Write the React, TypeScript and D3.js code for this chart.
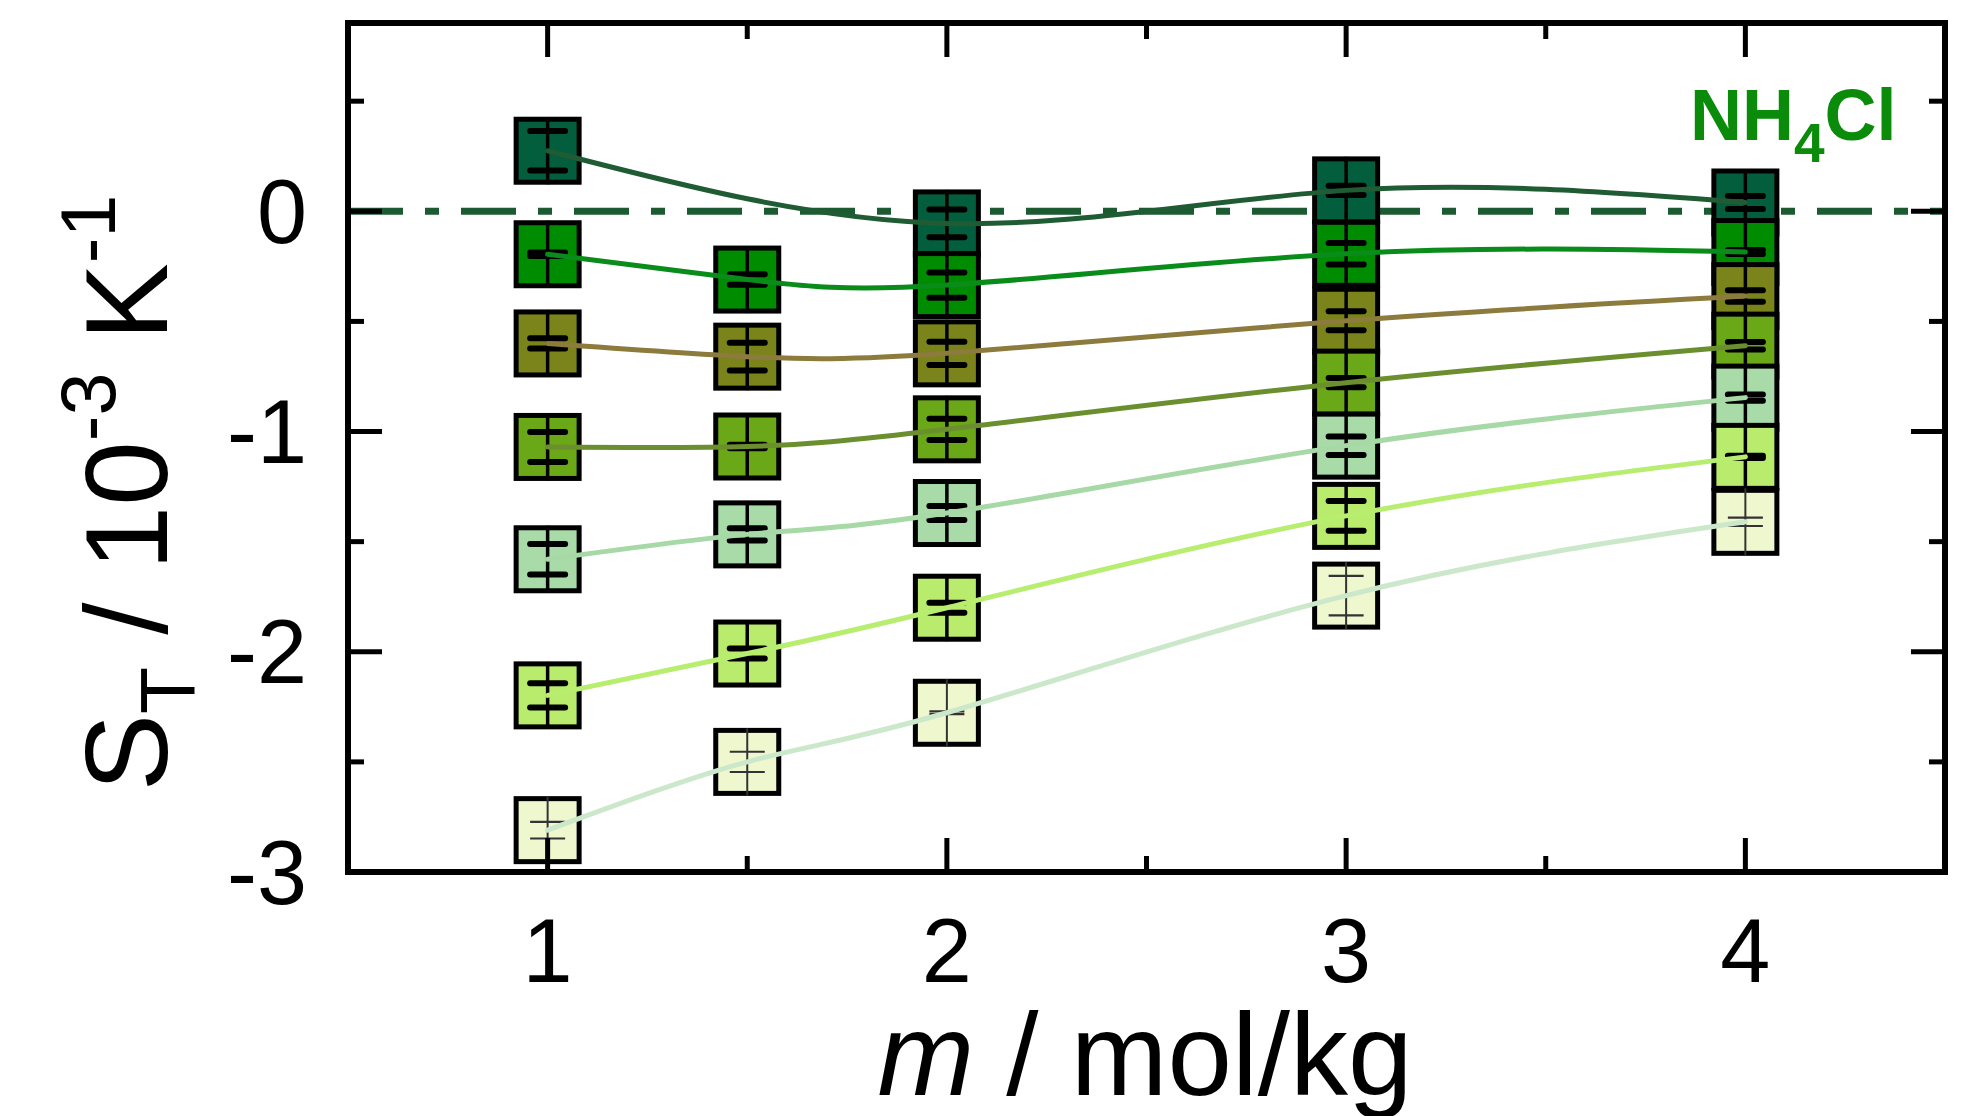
import React from 'react';
import * as d3 from 'd3';

// ---- data ----
const molality = [1, 1.5, 2, 3, 4];
const xTicksMajor = [1, 2, 3, 4];
const xTicksMinor = [1.5, 2.5, 3.5];
const xTickLabels = ['1', '2', '3', '4'];
const yTicksMajor = [-3, -2, -1, 0];
const yTicksMinor = [-2.5, -1.5, -0.5, 0.5];
const yTickLabels = ['-3', '-2', '-1', '0'];

const s1 = [0.275, null, -0.055, 0.095, 0.04];
const s1Err = [0.09, null, 0.063, 0.021, 0.03];
const s2 = [-0.195, -0.31, -0.335, -0.193, -0.185];
const s2Err = [0.008, 0.024, 0.057, 0.049, 0.009];
const s3 = [-0.6, -0.66, -0.645, -0.497, -0.385];
const s3Err = [0.023, 0.063, 0.053, 0.043, 0.026];
const s4 = [-1.07, -1.068, -0.99, -0.778, -0.61];
const s4Err = [0.068, 0.008, 0.048, 0.021, 0.017];
const s5 = [-1.58, -1.467, -1.37, -1.064, -0.846];
const s5Err = [0.069, 0.028, 0.032, 0.042, 0.014];
const s6 = [-2.198, -2.008, -1.8, -1.383, -1.115];
const s6Err = [0.055, 0.023, 0.023, 0.068, 0.005];
const s7 = [-2.81, -2.5, -2.277, -1.745, -1.41];
const s7Err = [0.038, 0.046, 0.006, 0.09, 0.019];

const seriesValues = [s1, s2, s3, s4, s5, s6, s7];
const seriesErrors = [s1Err, s2Err, s3Err, s4Err, s5Err, s6Err, s7Err];

// ---- styles ----
const fillColors = ['#035e3e', '#008c00', '#7a841a', '#6aa817', '#a8dba8', '#b9ec6c', '#eff7cf'];
const lineColors = ['#1f5c34', '#0a8c1a', '#8c7b3c', '#6b8f2f', '#a6d9a6', '#b8ee70', '#cbe8cb'];
const thinBars = [false, false, false, false, false, false, true];

const W = 1984;
const H = 1116;
const L = 348, R = 1945, T = 23, B = 872;
const FONT = '"Liberation Sans", Arial, Helvetica, sans-serif';

export default function App() {
  const x = d3.scaleLinear().domain([0.5, 4.5]).range([L, R]);
  const y = d3.scaleLinear().domain([-3, 0.855]).range([B, T]);
  const box = 63;
  const half = box / 2;

  const line = d3
    .line<[number, number]>()
    .x((d) => x(d[0]))
    .y((d) => y(d[1]))
    .curve(d3.curveNatural);

  const majorLen = 34;
  const minorLen = 16;

  return (
    <svg
      width={W}
      height={H}
      style={{ position: 'absolute', left: 0, top: 0, background: '#fff' }}
      fontFamily={FONT}
    >
      <rect x={0} y={0} width={W} height={H} fill="#fff" />

      {/* zero reference dash-dot line */}
      <line
        x1={L}
        x2={R}
        y1={y(0)}
        y2={y(0)}
        stroke="#1c5a32"
        strokeWidth={7}
        strokeDasharray="55 22 14 22"
      />

      {/* markers with error bars */}
      {seriesValues.map((vals, si) => (
        <g key={'s' + si}>
          {vals.map((v, i) => {
            if (v === null) return null;
            const cx = x(molality[i]);
            const cy = y(v);
            const e = seriesErrors[si][i] as number;
            const thin = thinBars[si];
            const capW = 17.5;
            return (
              <g key={i}>
                <rect
                  x={cx - half}
                  y={cy - half}
                  width={box}
                  height={box}
                  fill={fillColors[si]}
                  stroke="#000"
                  strokeWidth={5}
                />
                <line
                  x1={cx}
                  x2={cx}
                  y1={cy - half - 2}
                  y2={cy + half + 2}
                  stroke={thin ? '#333' : '#000'}
                  strokeWidth={thin ? 2 : 3.5}
                />
                {[y(v + e), y(v - e)].map((yy, k) => (
                  <line
                    key={k}
                    x1={cx - capW}
                    x2={cx + capW}
                    y1={yy}
                    y2={yy}
                    stroke={thin ? '#333' : '#000'}
                    strokeWidth={thin ? 2.2 : 6}
                    strokeLinecap={thin ? 'butt' : 'round'}
                  />
                ))}
              </g>
            );
          })}
        </g>
      ))}

      {/* fit curves */}
      {seriesValues.map((vals, si) => {
        const pts: [number, number][] = [];
        vals.forEach((v, i) => {
          if (v !== null) pts.push([molality[i], v]);
        });
        return (
          <path
            key={'l' + si}
            d={line(pts) || ''}
            fill="none"
            stroke={lineColors[si]}
            strokeWidth={5}
            strokeLinecap="round"
          />
        );
      })}

      {/* ticks */}
      <g stroke="#000" strokeWidth={5}>
        {xTicksMajor.map((t) => (
          <g key={'xM' + t}>
            <line x1={x(t)} x2={x(t)} y1={B} y2={B - majorLen} />
            <line x1={x(t)} x2={x(t)} y1={T} y2={T + majorLen} />
          </g>
        ))}
        {xTicksMinor.map((t) => (
          <g key={'xm' + t}>
            <line x1={x(t)} x2={x(t)} y1={B} y2={B - minorLen} />
            <line x1={x(t)} x2={x(t)} y1={T} y2={T + minorLen} />
          </g>
        ))}
        {yTicksMajor.map((t) => (
          <g key={'yM' + t}>
            <line x1={L} x2={L + majorLen} y1={y(t)} y2={y(t)} />
            <line x1={R} x2={R - majorLen} y1={y(t)} y2={y(t)} />
          </g>
        ))}
        {yTicksMinor.map((t) => (
          <g key={'ym' + t}>
            <line x1={L} x2={L + minorLen} y1={y(t)} y2={y(t)} />
            <line x1={R} x2={R - minorLen} y1={y(t)} y2={y(t)} />
          </g>
        ))}
      </g>

      {/* frame */}
      <rect x={L} y={T} width={R - L} height={B - T} fill="none" stroke="#000" strokeWidth={6} />

      {/* tick labels */}
      {xTicksMajor.map((t, i) => (
        <text key={'xl' + t} x={x(t)} y={982} fontSize={90} textAnchor="middle" fill="#000">
          {xTickLabels[i]}
        </text>
      ))}
      {yTicksMajor.map((t, i) => (
        <text key={'yl' + t} x={307} y={y(t)} dy="0.35em" fontSize={90} textAnchor="end" fill="#000">
          {yTickLabels[i]}
        </text>
      ))}

      {/* axis titles */}
      <text x={1145} y={1095} fontSize={116} textAnchor="middle" fill="#000">
        <tspan fontStyle="italic">m</tspan>
        <tspan> / mol/kg</tspan>
      </text>
      <text transform="translate(167,493) rotate(-90)" fontSize={116} textAnchor="middle" fill="#000">
        <tspan>S</tspan>
        <tspan fontSize={77} dy={28}>T</tspan>
        <tspan dy={-28}> / 10</tspan>
        <tspan fontSize={77} dy={-52}>-3</tspan>
        <tspan dy={52}> K</tspan>
        <tspan fontSize={77} dy={-52}>-1</tspan>
      </text>

      {/* label */}
      <text x={1690} y={140} fontSize={72} fontWeight="bold" fill="#0a8c0a">
        <tspan>NH</tspan>
        <tspan fontSize={55} dy={22}>4</tspan>
        <tspan dy={-22}>Cl</tspan>
      </text>
    </svg>
  );
}
